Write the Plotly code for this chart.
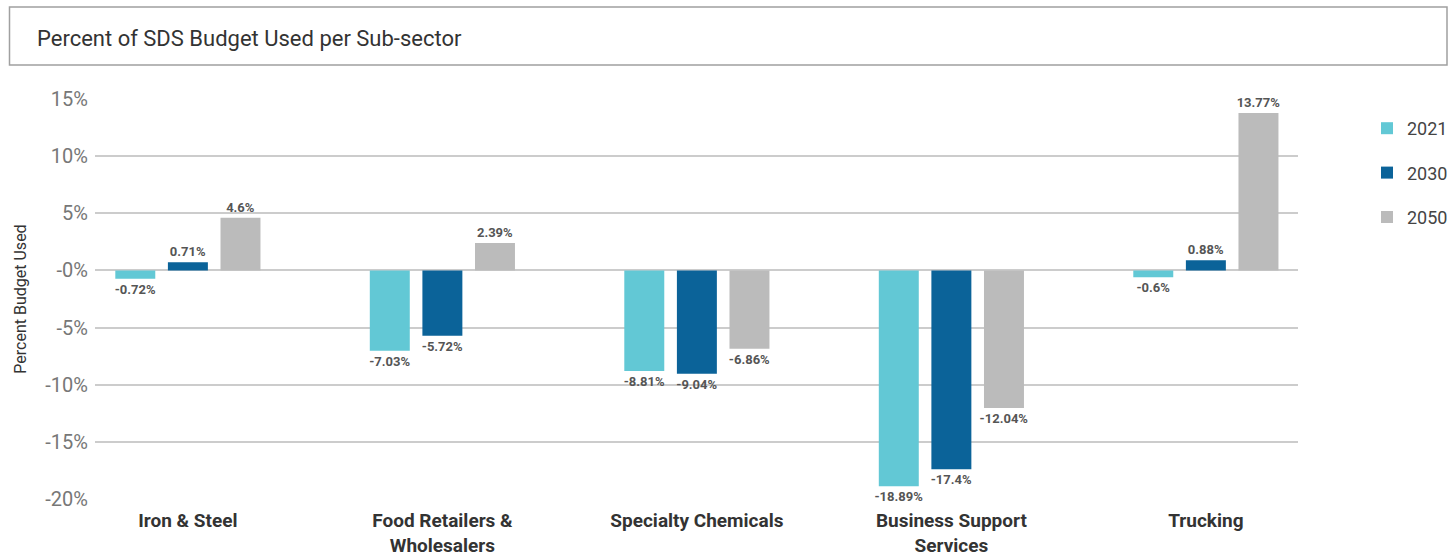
import plotly.graph_objects as go

categories = ["Iron & Steel", "Food Retailers &<br>Wholesalers", "Specialty Chemicals",
              "Business Support<br>Services", "Trucking"]
years = ["2021", "2030", "2050"]
v2021 = [-0.72, -7.03, -8.81, -18.89, -0.6]
v2030 = [0.71, -5.72, -9.04, -17.4, 0.88]
v2050 = [4.6, 2.39, -6.86, -12.04, 13.77]
series = [v2021, v2030, v2050]
colors = ["#62C8D5", "#0B6399", "#BBBBBB"]

y_tickvals = [-20, -15, -10, -5, 0, 5, 10, 15]
y_ticktext = ["-20%", "-15%", "-10%", "-5%", "-0%", "5%", "10%", "15%"]

W, H = 1455, 557
L, R, T, B = 95, 1298, 99, 499

def px_x(p):
    return (p - L) / (R - L)

def px_y(p):
    return (B - p) / (B - T)

fig = go.Figure()
for yr, vals, col in zip(years, series, colors):
    fig.add_trace(go.Bar(
        x=categories, y=vals, name=yr, marker=dict(color=col, line=dict(width=0)),
        text=[f"{v:g}%" for v in vals], textposition="outside", cliponaxis=False,
        constraintext="none",
        textfont=dict(family="Roboto", size=13, color="#555555", weight="bold"),
        legendgroup=yr,
    ))

fig.update_layout(
    width=W, height=H,
    margin=dict(l=L, r=W - R, t=T, b=H - B, autoexpand=False),
    paper_bgcolor="white", plot_bgcolor="white",
    barmode="group", bargap=0.38, bargroupgap=0.24,
    font=dict(family="Roboto", color="#444444"),
    title=dict(text="Percent of SDS Budget Used per Sub-sector", x=37 / W, xanchor="left",
               y=1 - 38 / H, yanchor="middle", xref="container",
               font=dict(family="Roboto", size=22, color="#333333")),
    legend=dict(x=px_x(1367), y=px_y(110), xanchor="left", yanchor="top",
                font=dict(family="Roboto", size=18, color="#444444"),
                tracegroupgap=18, itemwidth=30, bgcolor="rgba(0,0,0,0)"),
    showlegend=True,
)
fig.update_xaxes(range=[-0.365, 4.362], showgrid=False, showline=False, ticks="",
                 tickfont=dict(family="Roboto", size=19, color="#333333", weight="bold"),
                 ticklabelstandoff=8)
fig.update_yaxes(range=[-20, 15], tickvals=y_tickvals, ticktext=y_ticktext,
                 showgrid=True, gridcolor="#CCCCCC", gridwidth=1.5,
                 zeroline=True, zerolinecolor="#CCCCCC", zerolinewidth=1.5,
                 showline=False, ticks="", ticklabelstandoff=6,
                 tickfont=dict(family="Roboto", size=20, color="#777777"),
                 title=dict(text="Percent Budget Used", standoff=14,
                            font=dict(family="Roboto", size=16, color="#333333")))

fig.add_shape(type="rect", xref="paper", yref="paper",
              x0=px_x(9.5), x1=px_x(1447), y0=px_y(65), y1=px_y(7),
              line=dict(color="#A0A0A0", width=1.5), fillcolor="rgba(0,0,0,0)")

fig.write_html("out.html")
